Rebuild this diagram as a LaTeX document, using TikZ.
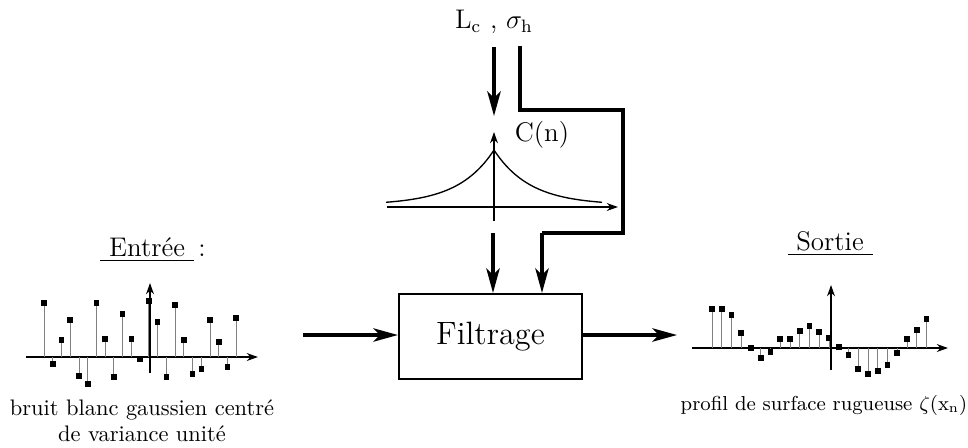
\documentclass[tikz,border=0pt]{standalone}
\usepackage{amsmath}
\usepackage{amssymb}
\usepackage{tikz}
\usepackage{xcolor}
\usetikzlibrary{arrows.meta}

\begin{document}
\begin{tikzpicture}[x=0.01565cm, y=-0.01565cm,
  fleche/.style={line width=1.4pt, -{Stealth[length=11pt, width=6pt, inset=3pt]}},
  lien/.style={line width=1.4pt},
  axe/.style={line width=0.8pt, -{Stealth[length=5pt, width=3.5pt]}},
  tige/.style={gray, line width=0.4pt},
  point/.style={fill=black, minimum size=2.5pt, inner sep=0pt}]
\useasboundingbox (0,0) rectangle (968,447);

% bloc central
\node[rectangle, draw, line width=1pt, minimum width=2.864cm, minimum height=1.33cm] (filtre) at (490.5,336.5) {\Large Filtrage};

% parametres
\node (param) at (494,22) {\large $\mathrm{L_c}$ , $\sigma_{\mathrm{h}}$};
\coordinate (haut1) at (494,47);
\coordinate (bas1) at (494,116);
\coordinate (haut2) at (520,46);
\coordinate (coin) at (623,233);
\coordinate (haut3) at (493,233);
\coordinate (dep2) at (542,233);
\draw[fleche] (haut1) -- (bas1);
\draw[lien] (haut2) |- (coin |- 0,110) -- (coin) -- (dep2);
\draw[fleche] (dep2) -- (dep2 |- filtre.north);
\draw[fleche] (haut3) -- (haut3 |- filtre.north);

% fonction de correlation
\draw[axe] (387,207) -- (618,207);
\draw[axe] (494,221) -- (494,132);
\draw[line width=0.6pt] plot[domain=0:108, samples=60] ({494+\x},{205-55*exp(-\x/36)});
\draw[line width=0.6pt] plot[domain=0:108, samples=60] ({494-\x},{205-55*exp(-\x/36)});
\node (corr) at (542,135) {\large C(n)};

% entree et sortie
\coordinate (entree) at (303,335);
\coordinate (sortie) at (677,335);
\draw[fleche] (entree) -- (filtre.west |- entree);
\draw[fleche] (filtre.east |- sortie) -- (sortie);

% bruit blanc
\node (titreE) at (153,250) {\large \underline{\ Entr\'ee\ }\,:};
\draw[axe] (26,357) -- (258,357);
\draw[axe] (150,373) -- (150,283);
\foreach \h [count=\i from 0] in {54,-7,17,37,-19,-27,54,18,-20,43,18,-2,56,35,-20,52,17,-17,-12,37,15,-10,39}
  \draw[tige] ({44+8.74*\i},357) -- ({44+8.74*\i},{357-\h}) node[point] {};
\node (legE1) at (142,410) {bruit blanc gaussien centr\'e};
\node (legE2) at (142,434) {de variance unit\'e};

% profil
\node (titreS) at (830,244) {\large \underline{\ Sortie\ }};
\draw[axe] (692,348) -- (948,348);
\draw[axe] (831,370) -- (831,285);
\foreach \h [count=\i from 0] in {39,39,33,15,0,-10,-4,9,9,17,22,16,10,1,-7,-21,-26,-23,-17,-5,9,18,29}
  \draw[tige] ({712+9.75*\i},348) -- ({712+9.75*\i},{348-\h}) node[point] {};
\node (legS) at (824,405) {\fontsize{9}{11}\selectfont profil de surface rugueuse $\zeta(\mathrm{x_n})$};
\end{tikzpicture}
\end{document}
